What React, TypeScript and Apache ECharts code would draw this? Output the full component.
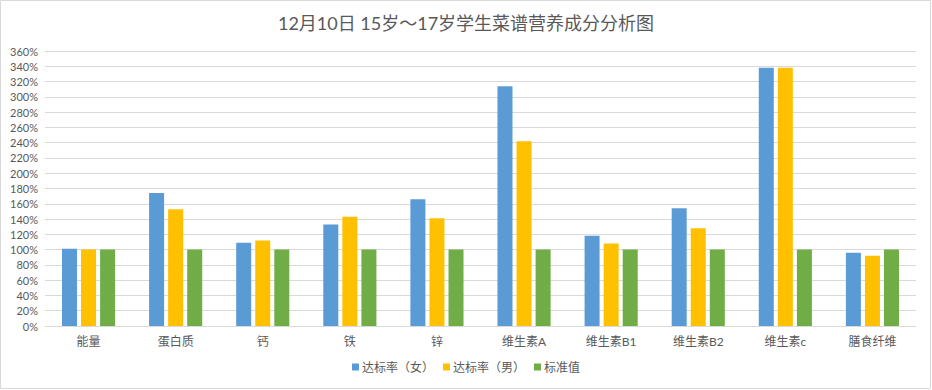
import React, { useEffect, useRef } from "react";
import * as echarts from "echarts";

const titleText = "12月10日 15岁～17岁学生菜谱营养成分分析图";
const categories = ["能量", "蛋白质", "钙", "铁", "锌", "维生素A", "维生素B1", "维生素B2", "维生素c", "膳食纤维"];
const seriesNames = ["达标率（女）", "达标率（男）", "标准值"];
const femaleRate = [101, 174, 109, 133, 166, 314, 118, 154, 338, 96];
const maleRate = [100, 153, 112, 143, 141, 242, 108, 128, 338, 92];
const standardValue = [100, 100, 100, 100, 100, 100, 100, 100, 100, 100];
const yMin = 0;
const yMax = 360;
const yInterval = 20;

const colors = ["#5B9BD5", "#FFC000", "#70AD47"];
const fontFamily = "Lato, 'Noto Sans CJK SC', sans-serif";

export default function App() {
  const ref = useRef<HTMLDivElement>(null);

  useEffect(() => {
    if (!ref.current) return;
    const chart = echarts.init(ref.current, null, { renderer: "svg" });
    const values = [femaleRate, maleRate, standardValue];
    chart.setOption({
      animation: false,
      backgroundColor: "#ffffff",
      color: colors,
      title: {
        text: titleText,
        left: "center",
        top: 9,
        textStyle: {
          fontSize: 18,
          fontWeight: "normal",
          color: "#595959",
          fontFamily,
        },
      },
      legend: {
        data: seriesNames,
        bottom: 12,
        left: "center",
        itemWidth: 7,
        itemHeight: 7,
        itemGap: 9,
        icon: "rect",
        textStyle: { fontSize: 12, color: "#595959", fontFamily, padding: [0, 0, 0, -2] },
      },
      grid: { left: 45, right: 16, top: 51, bottom: 64, containLabel: false },
      xAxis: {
        type: "category",
        data: categories,
        axisLine: { lineStyle: { color: "#d9d9d9" } },
        axisTick: { show: false },
        axisLabel: { fontSize: 12, color: "#595959", fontFamily, margin: 9 },
      },
      yAxis: {
        type: "value",
        min: yMin,
        max: yMax,
        interval: yInterval,
        axisLine: { show: false },
        axisTick: { show: false },
        axisLabel: { formatter: "{value}%", fontSize: 11, color: "#595959", fontFamily, margin: 7 },
        splitLine: { lineStyle: { color: "#d9d9d9", width: 1 } },
      },
      series: seriesNames.map((name, i) => ({
        name,
        type: "bar",
        data: values[i],
        barGap: "27%",
        barCategoryGap: "39%",
        itemStyle: { color: colors[i] },
      })),
      graphic: [
        {
          type: "rect",
          shape: { x: 0.5, y: 0.5, width: 930, height: 388 },
          style: { fill: "none", stroke: "#d9d9d9", lineWidth: 1 },
          silent: true,
        },
      ],
    });
    return () => chart.dispose();
  }, []);

  return (
    <div
      ref={ref}
      style={{ position: "absolute", left: 0, top: 0, width: 932, height: 390 }}
    />
  );
}
